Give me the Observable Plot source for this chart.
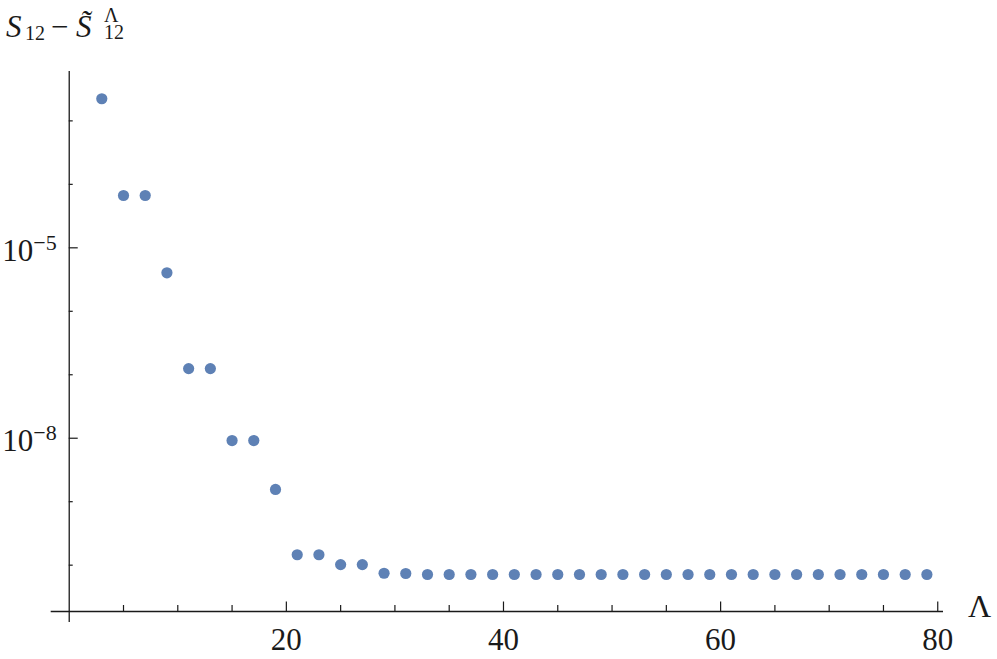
<!DOCTYPE html>
<html>
<head>
<meta charset="utf-8">
<script src="https://cdn.jsdelivr.net/npm/d3@7"></script>
<script src="https://cdn.jsdelivr.net/npm/@observablehq/plot@0.6"></script>
<style>
  html, body { margin: 0; padding: 0; background: #fff; }
  #wrap { position: relative; width: 997px; height: 659px; }
  #wrap svg { display: block; overflow: visible; }
  #title {
    position: absolute; left: 0; top: 0; width: 200px; height: 50px;
    font-family: "Liberation Serif", serif; color: #1a1a1a;
  }
  #title span { position: absolute; white-space: nowrap; }
  .big { font-size: 31px; line-height: 1; }
  .sm { font-size: 20px; line-height: 0.6; }
  .it { font-style: italic; }
  .stack { font-size: 20px; line-height: 17px; text-align: left; }
</style>
</head>
<body>
<div id="wrap">
  <div id="title">
    <span class="big it" style="left:6px;top:11px;">S</span>
    <span class="sm" style="left:25px;top:27px;">12</span>
    <span class="big" style="left:51px;top:11px;">−</span>
    <span class="big it" style="left:76px;top:11px;">S&#x0303;</span>
    <span class="stack" style="left:104px;top:7px;">Λ<br>12</span>
  </div>
</div>
<script>
// ---- data ----
const lambda = [3,5,7,9,11,13,15,17,19,21,23,25,27,29,31,33,35,37,39,41,43,45,47,49,51,53,55,57,59,61,63,65,67,69,71,73,75,77,79];
const diff = [2.23e-3, 6.67e-5, 6.67e-5, 4.04e-6, 1.25e-7, 1.25e-7, 9.2e-9, 9.2e-9, 1.56e-9,
  1.46e-10, 1.46e-10, 1.02e-10, 1.02e-10, 7.46e-11, 7.39e-11,
  7.13e-11, 7.13e-11, 7.13e-11, 7.13e-11, 7.13e-11, 7.13e-11, 7.13e-11, 7.13e-11,
  7.13e-11, 7.13e-11, 7.13e-11, 7.13e-11, 7.13e-11, 7.13e-11, 7.13e-11, 7.13e-11,
  7.13e-11, 7.13e-11, 7.13e-11, 7.13e-11, 7.13e-11, 7.13e-11, 7.13e-11, 7.13e-11];
const xMajorTicks = [20, 40, 60, 80];
const xMinorTicks = [5, 10, 15, 25, 30, 35, 45, 50, 55, 65, 70, 75];
const yMajorExp = [-5, -8];
const yMinorExp = [-3, -4, -6, -7, -9, -10];
const xLabel = "Λ";

// ---- layout ----
const W = 997, H = 659;
const mL = 50.7, mR = 54, mT = 71, mB = 48;
const xDom = [-1.66, 80.53];
const yDom = [10 ** -10.73, 10 ** -2.222];
const pxPerDecade = (H - mT - mB) / (Math.log10(yDom[1]) - Math.log10(yDom[0]));
const pxPerUnit = (W - mL - mR) / (xDom[1] - xDom[0]);
const upPx = px => yDom[0] * 10 ** (px / pxPerDecade);
const font = "Liberation Serif, serif";
const ink = "#1a1a1a";

const data = lambda.map((l, i) => ({l, v: diff[i]}));
const yMajor = yMajorExp.map(e => ({e, v: 10 ** e}));
const yMinor = yMinorExp.map(e => 10 ** e);

const chart = Plot.plot({
  width: W, height: H,
  marginLeft: mL, marginRight: mR, marginTop: mT, marginBottom: mB,
  x: {domain: xDom, axis: null},
  y: {type: "log", domain: yDom, axis: null},
  style: {background: "#fff", overflow: "visible"},
  marks: [
    Plot.ruleY([yDom[0]], {x1: xDom[0], x2: xDom[1], stroke: ink, strokeWidth: 1.3}),
    Plot.ruleX([0], {y1: yDom[0] * 10 ** (-11 / pxPerDecade), y2: yDom[1], stroke: ink, strokeWidth: 1.3}),
    Plot.ruleX(xMajorTicks, {x: d => d, y1: yDom[0], y2: upPx(9.5), stroke: ink, strokeWidth: 1.2}),
    Plot.ruleX(xMinorTicks, {x: d => d, y1: yDom[0], y2: upPx(6), stroke: ink, strokeWidth: 1.2}),
    Plot.ruleY(yMajor, {y: d => d.v, x1: 0, x2: 9 / pxPerUnit, stroke: ink, strokeWidth: 1.2}),
    Plot.ruleY(yMinor, {y: d => d, x1: 0, x2: 4 / pxPerUnit, stroke: ink, strokeWidth: 1.2}),
    Plot.text(xMajorTicks, {x: d => d, y: yDom[0], text: d => String(d), dy: 29, fontSize: 31, fontFamily: font, fill: ink}),
    Plot.text(yMajor, {x: 0, y: d => d.v, text: () => "10", textAnchor: "end", dx: -36, dy: 3, fontSize: 31, fontFamily: font, fill: ink}),
    Plot.text(yMajor, {x: 0, y: d => d.v, text: d => "−" + Math.abs(d.e), textAnchor: "start", dx: -36, dy: -5, fontSize: 22, fontFamily: font, fill: ink}),
    Plot.text([xLabel], {x: xDom[1], y: yDom[0], text: d => d, textAnchor: "middle", dx: 36, dy: -5, fontSize: 32, fontFamily: font, fill: ink}),
    Plot.dot(data, {x: "l", y: "v", r: 5.6, fill: "#5e81b5", stroke: "none"})
  ]
});
document.getElementById("wrap").prepend(chart);
</script>
</body>
</html>
